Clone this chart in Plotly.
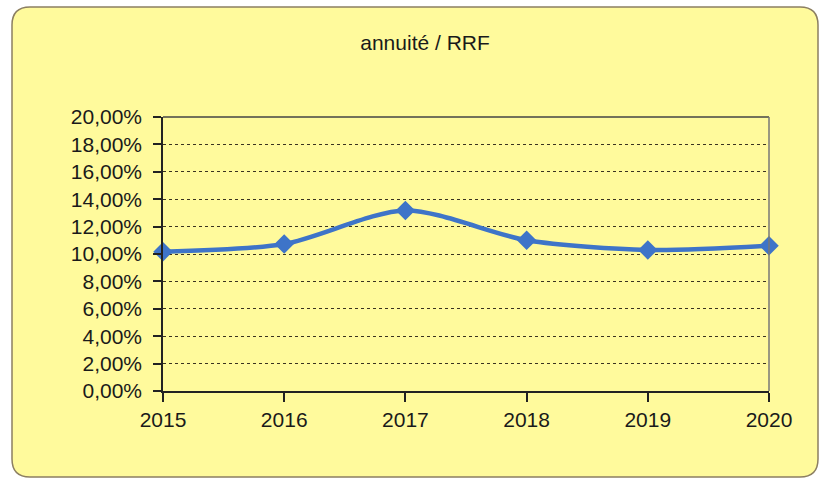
import plotly.graph_objects as go

years = [2015, 2016, 2017, 2018, 2019, 2020]
ratio = [0.1017, 0.1073, 0.1318, 0.1101, 0.1030, 0.1060]
y_ticks = [i / 100 for i in range(0, 21, 2)]

bg = "#FFFA9C"
fig = go.Figure()
fig.add_trace(go.Scatter(
    x=years, y=ratio, mode="lines+markers",
    line=dict(color="#3E74C8", width=4.5, shape="spline", smoothing=0.8),
    marker=dict(symbol="diamond", size=15, color="#3E74C8"),
    cliponaxis=False, showlegend=False,
))

fig.update_layout(
    width=819, height=479,
    margin=dict(l=163, r=50, t=117, b=88),
    paper_bgcolor="white", plot_bgcolor=bg,
    separators=", ",
    font=dict(family="Liberation Sans, Arial", size=21, color="#1a1a1a"),
    title=dict(text="annuité / RRF", x=0.519, xanchor="center", y=0.912, yanchor="middle",
               font=dict(size=21, color="#1a1a1a")),
)

# rounded outer frame drawn in pixel coordinates relative to the paper
W, H = 819, 479
l, r, t, b = 163, 50, 117, 88
pw, ph = W - l - r, H - t - b
def px(xp):
    return (xp - l) / pw
def py(yp):
    return (H - b - yp) / ph
x0, y0, x1, y1, rad = 12, 7, 818, 477, 18
path = (f"M {px(x0 + rad)},{py(y0)} L {px(x1 - rad)},{py(y0)} "
        f"Q {px(x1)},{py(y0)} {px(x1)},{py(y0 + rad)} "
        f"L {px(x1)},{py(y1 - rad)} Q {px(x1)},{py(y1)} {px(x1 - rad)},{py(y1)} "
        f"L {px(x0 + rad)},{py(y1)} Q {px(x0)},{py(y1)} {px(x0)},{py(y1 - rad)} "
        f"L {px(x0)},{py(y0 + rad)} Q {px(x0)},{py(y0)} {px(x0 + rad)},{py(y0)} Z")
fig.layout.shapes = [
    dict(type="path", xref="paper", yref="paper", layer="below", path=path,
         fillcolor=bg, line=dict(color="#8C7F62", width=1.5)),
    dict(type="line", xref="paper", yref="paper", x0=0, x1=1, y0=1, y1=1,
         line=dict(color="#444444", width=1.5), layer="above"),
    dict(type="line", xref="paper", yref="paper", x0=1, x1=1, y0=0, y1=1,
         line=dict(color="#777777", width=1.5), layer="above"),
]

fig.update_xaxes(
    range=[2015, 2020], tickvals=years, ticktext=[str(v) for v in years],
    showgrid=False, zeroline=False,
    showline=True, linecolor="#222222", linewidth=1.5,
    ticks="outside", ticklen=9, tickwidth=1.5, tickcolor="#222222",
    ticklabelstandoff=0,
)
fig.update_yaxes(
    range=[0, 0.2], tickvals=y_ticks, tickformat=".2%",
    showgrid=True, gridcolor="#3a3320", gridwidth=1, griddash="dot",
    zeroline=False,
    showline=True, linecolor="#222222", linewidth=1.5,
    ticks="outside", ticklen=8, tickwidth=1.5, tickcolor="#222222",
    ticklabelstandoff=7,
)

fig.write_html("out.html")
